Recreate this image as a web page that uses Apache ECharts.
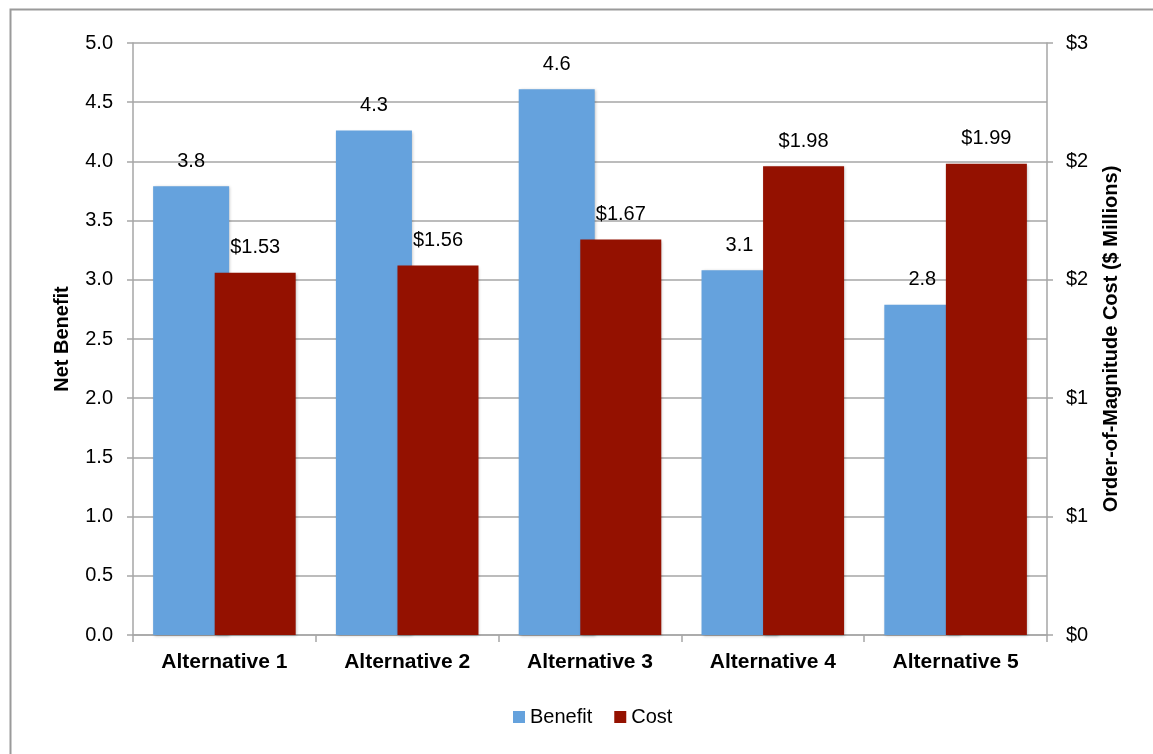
<!DOCTYPE html>
<html>
<head>
<meta charset="utf-8">
<script src="https://cdn.jsdelivr.net/npm/echarts@6/dist/echarts.min.js"></script>
<style>
  html, body { margin: 0; padding: 0; background: #fff; }
  #chart { width: 1153px; height: 754px; }
</style>
</head>
<body>
<div id="chart"></div>
<script>
const categories = ["Alternative 1", "Alternative 2", "Alternative 3", "Alternative 4", "Alternative 5"];
const benefit = [3.79, 4.26, 4.61, 3.08, 2.79];
const cost = [1.53, 1.56, 1.67, 1.98, 1.99];

const font = "Liberation Sans, Arial, sans-serif";
const axisGrey = "#a6a6a6";

const chart = echarts.init(document.getElementById("chart"));
chart.setOption({
  backgroundColor: "#fff",
  animation: false,
  textStyle: { fontFamily: font },
  graphic: [
    {
      type: "rect",
      left: 8, top: 7,
      shape: { width: 1300, height: 900 },
      style: { fill: "none", stroke: "#9a9a9a", lineWidth: 2 },
      silent: true
    }
  ],
  grid: { left: 133, right: 106, top: 43, bottom: 119 },
  legend: {
    bottom: 22,
    left: 508,
    itemWidth: 12,
    itemHeight: 12,
    itemGap: 22,
    icon: "rect",
    textStyle: { fontFamily: font, fontSize: 20, color: "#000", padding: [0, 0, 0, 0] },
    data: ["Benefit", "Cost"]
  },
  xAxis: {
    type: "category",
    data: categories,
    axisLine: { lineStyle: { color: axisGrey, width: 1.5 } },
    axisTick: { show: true, length: 7, lineStyle: { color: axisGrey, width: 1.5 } },
    axisLabel: { fontFamily: font, fontSize: 21, fontWeight: "bold", color: "#000", margin: 17 }
  },
  yAxis: [
    {
      type: "value",
      min: 0, max: 5, interval: 0.5,
      name: "Net Benefit",
      nameLocation: "middle",
      nameRotate: 90,
      nameGap: 61,
      nameTextStyle: { fontFamily: font, fontSize: 20, fontWeight: "bold", color: "#000" },
      axisLine: { show: true, lineStyle: { color: axisGrey, width: 1.5 } },
      axisTick: { show: true, length: 6, lineStyle: { color: axisGrey, width: 1.5 } },
      axisLabel: { fontFamily: font, fontSize: 20, color: "#000", margin: 20, formatter: v => v.toFixed(1) },
      splitLine: { lineStyle: { color: axisGrey, width: 1.5 } }
    },
    {
      type: "value",
      position: "right",
      min: 0, max: 2.5, interval: 0.5,
      name: "Order-of-Magnitude Cost ($ Millions)",
      nameLocation: "middle",
      nameRotate: 90,
      nameGap: 54,
      nameTextStyle: { fontFamily: font, fontSize: 20, fontWeight: "bold", color: "#000" },
      axisLine: { show: true, lineStyle: { color: axisGrey, width: 1.5 } },
      axisTick: { show: true, length: 6, lineStyle: { color: axisGrey, width: 1.5 } },
      axisLabel: { fontFamily: font, fontSize: 20, color: "#000", margin: 19, formatter: v => "$" + Math.round(v) },
      splitLine: { show: false }
    }
  ],
  series: [
    {
      name: "Benefit",
      type: "bar",
      data: benefit,
      yAxisIndex: 0,
      barWidth: 76,
      barGap: "-19%",
      itemStyle: { color: "#65a2dd", shadowColor: "rgba(0,0,0,0.25)", shadowBlur: 3, shadowOffsetX: 1, shadowOffsetY: 1 },
      label: {
        show: true, position: "top", distance: 15,
        fontFamily: font, fontSize: 20, color: "#000",
        formatter: p => p.value.toFixed(1)
      }
    },
    {
      name: "Cost",
      type: "bar",
      data: cost,
      yAxisIndex: 1,
      barWidth: 81,
      itemStyle: { color: "#941100", shadowColor: "rgba(0,0,0,0.25)", shadowBlur: 3, shadowOffsetX: 1, shadowOffsetY: 1 },
      label: {
        show: true, position: "top", distance: 15,
        fontFamily: font, fontSize: 20, color: "#000",
        formatter: p => "$" + p.value.toFixed(2)
      }
    }
  ]
});
</script>
</body>
</html>
